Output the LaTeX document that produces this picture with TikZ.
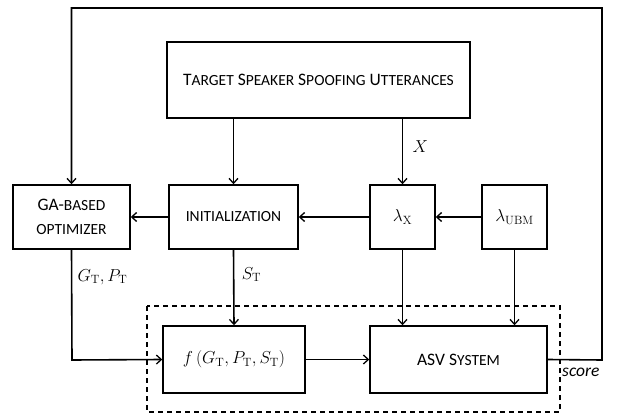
\documentclass[tikz,border=0pt]{standalone}
\usepackage[no-math]{fontspec}
\setmainfont{Carlito}
\usetikzlibrary{arrows.meta}
\newcommand\smc[1]{{\fontsize{15.5}{18}\selectfont #1}}
\begin{document}
\begin{tikzpicture}[x=1pt,y=-1pt,
  blk/.style={draw,line width=1.4pt,inner sep=0pt},
  conn/.style={line width=1.6pt,-{Straight Barb[length=5pt,width=9pt,line width=1.3pt]}}]
\useasboundingbox (0,0) rectangle (618,414);
\tikzset{every node/.style={font=\fontsize{17.5}{20}\selectfont}}
\node[blk,minimum width=303pt,minimum height=76pt] (tgt) at (318.5,80) {T\smc{ARGET} S\smc{PEAKER} S\smc{POOFING} U\smc{TTERANCES}};
\node[blk,minimum width=117pt,minimum height=64pt,align=center] (ga) at (71.5,217) {GA-\smc{BASED}\\[4pt]\smc{OPTIMIZER}};
\node[blk,minimum width=129pt,minimum height=64pt] (init) at (233.5,217) {\smc{INITIALIZATION}};
\node[blk,minimum width=65pt,minimum height=64pt] (lx) at (402.5,217) {$\lambda_{\mathrm{X}}$};
\node[blk,minimum width=65pt,minimum height=64pt] (lu) at (514.5,217) {$\lambda_{\mathrm{UBM}}$};
\node[blk,minimum width=142pt,minimum height=67pt] (f) at (234,359.5) {$f\,(G_{\mathrm{T}},P_{\mathrm{T}},S_{\mathrm{T}})$};
\node[blk,minimum width=177pt,minimum height=67pt] (asv) at (458.5,359.5) {ASV S\smc{YSTEM}};
\draw[line width=1.3pt,dash pattern=on 5pt off 4pt] (147,306) rectangle (560,412);
% connectors
\draw[conn] (tgt.south -| init.north) -- (init.north);
\draw[conn] (tgt.south -| lx.north) -- node[right,pos=0.42,xshift=6pt] {$X$} (lx.north);
\draw[conn] (init.west) -- (ga.east);
\draw[conn] (lx.west) -- (init.east);
\draw[conn] (lu.west) -- (lx.east);
\draw[conn] (init.south) -- node[right,pos=0.33,xshift=4pt] {$S_{\mathrm{T}}$} (f.north);
\draw[conn] (lx.south) -- (asv.north -| lx.south);
\draw[conn] (lu.south) -- (asv.north -| lu.south);
\draw[conn] (f.east) -- (asv.west);
\coordinate (c1) at (72,360);
\draw[conn] (ga.south) -- (c1) -- (f.west);
\node[anchor=west] (gp) at (74,277) {$G_{\mathrm{T}},P_{\mathrm{T}}$};
\coordinate (r1) at (602,360);
\coordinate (r2) at (602,8);
\coordinate (r3) at (71.5,8);
\draw[conn] (asv.east) -- (r1) -- (r2) -- (r3) -- (ga.north);
\node[anchor=west,inner sep=1pt] (sc) at (561,372) {\itshape score};
\end{tikzpicture}
\end{document}
